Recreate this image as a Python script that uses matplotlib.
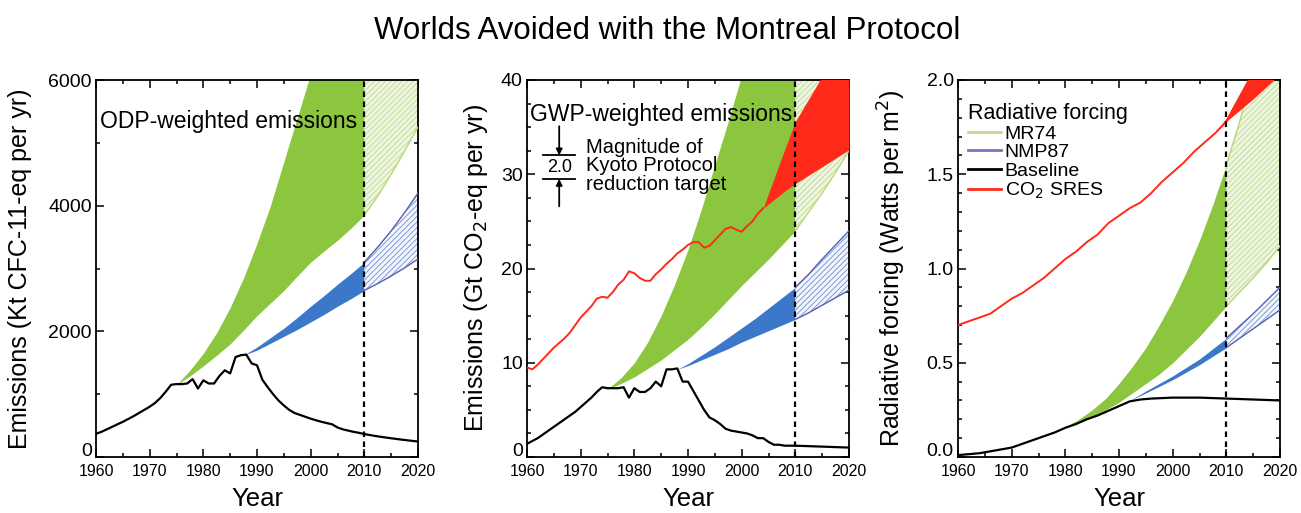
import numpy as np
import matplotlib
matplotlib.use("Agg")
import matplotlib.pyplot as plt
import matplotlib.transforms as mtransforms
from matplotlib.ticker import MultipleLocator, FormatStrFormatter
from matplotlib.lines import Line2D

plt.rcParams['font.family'] = ['Liberation Sans', 'DejaVu Sans']
plt.rcParams['hatch.linewidth'] = 0.6

# ---------------- data ----------------
years = list(range(1960, 2021))

# Panel 1: ODP-weighted emissions (Kt CFC-11-eq per yr)
odp_baseline = [370, 400, 440, 480, 520, 560, 605, 650, 700, 750,
                800, 860, 940, 1040, 1150, 1160, 1160, 1170, 1240, 1090,
                1220, 1170, 1170, 1290, 1380, 1330, 1590, 1620, 1630, 1490,
                1460, 1230, 1110, 1000, 900, 820, 750, 700, 670, 640,
                610, 585, 560, 540, 520, 470, 440, 420, 400, 385,
                365, 350, 335, 322, 310, 298, 287, 276, 266, 256, 246]
odp_mr_years = [1975, 1977.5, 1980, 1982.5, 1985, 1987.5, 1990, 1992.5, 1995, 1997.5,
                2000, 2002.5, 2005, 2007.5, 2010, 2012.5, 2015, 2017.5, 2020]
odp_mr_low = [1150, 1290, 1450, 1620, 1800, 2020, 2250, 2450, 2650, 2880,
              3100, 3280, 3450, 3640, 3850, 4150, 4500, 4870, 5250]
odp_mr_high = [1150, 1380, 1650, 1980, 2380, 2850, 3400, 4000, 4700, 5400,
               6100, 6900, 7700, 8500, 9300, 10100, 10900, 11700, 12500]
odp_nmp_years = [1987.5, 1990, 1992.5, 1995, 1997.5, 2000, 2002.5, 2005, 2007.5,
                 2010, 2012.5, 2015, 2017.5, 2020]
odp_nmp_low = [1620, 1700, 1810, 1920, 2030, 2150, 2270, 2400, 2520,
               2650, 2760, 2880, 3010, 3150]
odp_nmp_high = [1620, 1750, 1900, 2050, 2220, 2400, 2570, 2750, 2920,
                3100, 3340, 3600, 3890, 4200]

# Panel 2: GWP-weighted emissions (Gt CO2-eq per yr)
gwp_baseline = [1.4, 1.7, 2.0, 2.4, 2.8, 3.2, 3.6, 4.0, 4.4, 4.8,
                5.3, 5.8, 6.3, 6.9, 7.4, 7.3, 7.3, 7.3, 7.4, 6.3,
                7.3, 6.9, 6.9, 7.3, 8.0, 7.5, 9.3, 9.3, 9.4, 8.0,
                8.0, 7.0, 6.0, 5.0, 4.2, 3.9, 3.5, 3.0, 2.8, 2.7,
                2.6, 2.5, 2.3, 2.0, 2.0, 1.6, 1.3, 1.3, 1.2, 1.2,
                1.2, 1.18, 1.16, 1.14, 1.12, 1.1, 1.08, 1.06, 1.04, 1.02, 1.0]
co2_years = list(range(1960, 2005))
co2_emis = [9.5, 9.3, 9.8, 10.4, 11.0, 11.6, 12.1, 12.6, 13.2, 14.0,
            14.8, 15.4, 16.0, 16.8, 17.0, 16.9, 17.5, 18.3, 18.8, 19.7,
            19.5, 19.0, 18.7, 18.7, 19.4, 19.9, 20.5, 21.0, 21.6, 22.0,
            22.5, 22.8, 22.8, 22.2, 22.4, 23.0, 23.6, 24.2, 24.4, 24.1,
            23.9, 24.5, 25.0, 25.8, 26.4]
co2_sres_years = [2004, 2006, 2008, 2010, 2012.5, 2015, 2017.5, 2020]
co2_sres_low = [26.4, 27.3, 28.2, 29.0, 29.9, 30.8, 31.7, 32.6]
co2_sres_high = [26.4, 29.5, 32.6, 35.6, 38.0, 40.4, 42.7, 45.0]
gwp_mr_years = [1975, 1977.5, 1980, 1982.5, 1985, 1987.5, 1990, 1992.5, 1995, 1997.5,
                2000, 2002.5, 2005, 2007.5, 2010, 2012.5, 2015, 2017.5, 2020]
gwp_mr_low = [7.2, 7.8, 8.5, 9.4, 10.3, 11.4, 12.5, 13.8, 15.2, 16.7,
              18.2, 19.6, 21.0, 22.5, 24.0, 26.0, 28.0, 30.2, 32.5]
gwp_mr_high = [7.2, 8.4, 10.0, 12.2, 15.0, 18.3, 22.0, 26.3, 31.0, 35.6,
               40.5, 45.0, 50.0, 55.0, 60.0, 65.0, 70.0, 75.0, 80.0]
gwp_nmp_years = [1988, 1990, 1992.5, 1995, 1997.5, 2000, 2002.5, 2005, 2007.5,
                 2010, 2012.5, 2015, 2017.5, 2020]
gwp_nmp_low = [9.3, 9.7, 10.3, 10.9, 11.5, 12.2, 12.8, 13.4, 14.0,
               14.6, 15.3, 16.1, 16.9, 17.7]
gwp_nmp_high = [9.3, 9.9, 10.8, 11.7, 12.7, 13.7, 14.7, 15.8, 16.9,
                18.0, 19.4, 21.0, 22.5, 24.0]

# Panel 3: Radiative forcing (W m-2)
rf_years = [1960, 1962, 1964, 1966, 1968, 1970, 1972, 1974, 1976, 1978, 1980,
            1982, 1984, 1986, 1988, 1990, 1992, 1994, 1996, 2000, 2005, 2010,
            2015, 2020]
rf_baseline = [0.01, 0.015, 0.02, 0.03, 0.04, 0.05, 0.07, 0.09, 0.11, 0.13, 0.155,
               0.175, 0.20, 0.22, 0.245, 0.27, 0.295, 0.305, 0.31, 0.315, 0.315, 0.31,
               0.305, 0.30]
rf_co2_years = list(range(1960, 2011, 2))
rf_co2 = [0.70, 0.72, 0.74, 0.76, 0.80, 0.84, 0.87, 0.91, 0.95, 1.00,
          1.05, 1.09, 1.14, 1.18, 1.24, 1.28, 1.32, 1.35, 1.40, 1.46,
          1.51, 1.56, 1.62, 1.67, 1.72, 1.78]
rf_sres_years = [2008, 2010, 2015, 2020]
rf_sres_low = [1.72, 1.78, 1.90, 2.03]
rf_sres_high = [1.72, 1.80, 2.06, 2.30]
rf_mr_years = [1980, 1982.5, 1985, 1987.5, 1990, 1992.5, 1995, 1997.5, 2000, 2002.5,
               2005, 2007.5, 2010, 2012.5, 2015, 2017.5, 2020]
rf_mr_low = [0.16, 0.185, 0.21, 0.25, 0.29, 0.34, 0.39, 0.44, 0.50, 0.57,
             0.64, 0.72, 0.80, 0.875, 0.95, 1.03, 1.12]
rf_mr_high = [0.16, 0.20, 0.25, 0.31, 0.39, 0.48, 0.58, 0.70, 0.83, 0.98,
              1.15, 1.34, 1.55, 1.78, 2.05, 2.30, 2.60]
rf_nmp_years = [1992, 1995, 1997.5, 2000, 2002.5, 2005, 2007.5, 2010, 2012.5,
                2015, 2017.5, 2020]
rf_nmp_low = [0.30, 0.34, 0.375, 0.41, 0.45, 0.49, 0.535, 0.58, 0.63, 0.68, 0.73, 0.78]
rf_nmp_high = [0.30, 0.35, 0.39, 0.43, 0.475, 0.52, 0.575, 0.63, 0.695, 0.76, 0.83, 0.90]

# ---------------- styles ----------------
GREEN = '#8cc63e'
GREEN_PALE = '#eef6e2'
GREEN_HATCH = '#bcd98c'
GREEN_EDGE = '#b8d870'
BLUE = '#3b78c9'
BLUE_PALE = '#f1f5fc'
BLUE_HATCH = '#6f8ed3'
BLUE_EDGE = '#5a5fb0'
RED = '#ff2a1a'
SPLIT = 2010

fig = plt.figure(figsize=(13.01, 5.13), dpi=100)
lefts = [96, 527, 958]
axes = [fig.add_axes([l / 1301, 56 / 513, 322 / 1301, 377 / 513]) for l in lefts]


def band(ax, yrs, low, high, solid, pale, hatch_c, edge_c):
    yrs = np.asarray(yrs, float)
    low = np.asarray(low, float)
    high = np.asarray(high, float)
    pre = yrs <= SPLIT
    post = yrs >= SPLIT
    ax.fill_between(yrs[pre], low[pre], high[pre], color=solid, lw=0, zorder=2)
    ax.fill_between(yrs[post], low[post], high[post], facecolor=pale,
                    edgecolor=hatch_c, hatch='//////', lw=0, zorder=2)
    ax.plot(yrs[post], low[post], color=edge_c, lw=1.0, zorder=3)
    ax.plot(yrs[post], high[post], color=edge_c, lw=1.0, zorder=3)


def style(ax, ymax, ymaj, ymin):
    ax.set_xlim(1960, 2020)
    ax.set_ylim(0, ymax)
    ax.xaxis.set_major_locator(MultipleLocator(10))
    ax.xaxis.set_minor_locator(MultipleLocator(5))
    ax.yaxis.set_major_locator(MultipleLocator(ymaj))
    ax.yaxis.set_minor_locator(MultipleLocator(ymin))
    ax.tick_params(which='both', direction='in', top=True, right=True, width=1.1)
    ax.tick_params(which='major', length=6)
    ax.tick_params(which='minor', length=3)
    ax.tick_params(axis='x', labelsize=11.5, pad=5)
    ax.tick_params(axis='y', labelsize=14, pad=3)
    for s in ax.spines.values():
        s.set_linewidth(1.3)
    ax.axvline(SPLIT, color='black', lw=1.6, ls=(0, (2.5, 2)), zorder=5)
    ax.set_xlabel('Year', fontsize=18.5)
    ax.xaxis.set_label_coords(0.5, -0.08)


# ---- Panel 1 ----
ax = axes[0]
band(ax, odp_mr_years, odp_mr_low, odp_mr_high, GREEN, GREEN_PALE, GREEN_HATCH, GREEN_EDGE)
band(ax, odp_nmp_years, odp_nmp_low, odp_nmp_high, BLUE, BLUE_PALE, BLUE_HATCH, BLUE_EDGE)
ax.plot(years, odp_baseline, color='black', lw=1.6, zorder=4)
style(ax, 6000, 2000, 1000)
ax.set_ylabel('Emissions (Kt CFC-11-eq per yr)', fontsize=18)
ax.yaxis.set_label_coords(-0.2, 0.5)
ax.text(1960.8, 5340, 'ODP-weighted emissions', fontsize=16.5, va='center', ha='left', zorder=6)

# ---- Panel 2 ----
ax = axes[1]
band(ax, gwp_mr_years, gwp_mr_low, gwp_mr_high, GREEN, GREEN_PALE, GREEN_HATCH, GREEN_EDGE)
band(ax, gwp_nmp_years, gwp_nmp_low, gwp_nmp_high, BLUE, BLUE_PALE, BLUE_HATCH, BLUE_EDGE)
ax.fill_between(co2_sres_years, co2_sres_low, co2_sres_high, color=RED, lw=0, zorder=3)
ax.plot(co2_years, co2_emis, color=RED, lw=1.4, zorder=4)
ax.plot(years, gwp_baseline, color='black', lw=1.6, zorder=4)
style(ax, 40, 10, 2.5)
ax.set_ylabel('Emissions (Gt CO$_2$-eq per yr)', fontsize=18)
ax.yaxis.set_label_coords(-0.115, 0.5)
ax.text(1960.6, 36.3, 'GWP-weighted emissions', fontsize=16.5, va='center', ha='left', zorder=6)
# Kyoto magnitude marker
ax.annotate('', xy=(1966.0, 32.0), xytext=(1966.0, 35.1),
            arrowprops=dict(arrowstyle='-|>', color='black', lw=1.3, mutation_scale=9,
                            shrinkA=0, shrinkB=0))
ax.annotate('', xy=(1966.0, 29.5), xytext=(1966.0, 26.6),
            arrowprops=dict(arrowstyle='-|>', color='black', lw=1.3, mutation_scale=9,
                            shrinkA=0, shrinkB=0))
ax.plot([1963.0, 1968.9], [32.0, 32.0], color='black', lw=1.3)
ax.plot([1963.0, 1968.9], [29.5, 29.5], color='black', lw=1.3)
ax.text(1966.0, 30.75, '2.0', fontsize=13, ha='center', va='center')
ax.text(1971.0, 30.9, 'Magnitude of\nKyoto Protocol\nreduction target', fontsize=14.5,
        ha='left', va='center', linespacing=0.95)

# ---- Panel 3 ----
ax = axes[2]
band(ax, rf_mr_years, rf_mr_low, rf_mr_high, GREEN, GREEN_PALE, GREEN_HATCH, GREEN_EDGE)
band(ax, rf_nmp_years, rf_nmp_low, rf_nmp_high, BLUE, BLUE_PALE, BLUE_HATCH, BLUE_EDGE)
ax.fill_between(rf_sres_years, rf_sres_low, rf_sres_high, color=RED, lw=0, zorder=3)
ax.plot(rf_co2_years, rf_co2, color=RED, lw=1.4, zorder=4)
ax.plot(rf_years, rf_baseline, color='black', lw=1.6, zorder=4)
style(ax, 2.0, 0.5, 0.1)
ax.yaxis.set_major_formatter(FormatStrFormatter('%.1f'))
ax.set_ylabel('Radiative forcing (Watts per m$^2$)', fontsize=18)
ax.yaxis.set_label_coords(-0.155, 0.5)

handles = [Line2D([], [], color='#c3d98e', lw=2),
           Line2D([], [], color='#7575bf', lw=2),
           Line2D([], [], color='black', lw=2),
           Line2D([], [], color=RED, lw=2)]
labels = ['MR74', 'NMP87', 'Baseline', 'CO$_2$ SRES']
leg = ax.legend(handles, labels, title='Radiative forcing', loc='upper left',
                bbox_to_anchor=(0.0, 0.965), frameon=False, fontsize=14,
                title_fontsize=15.5, handlelength=1.7, handletextpad=0.2,
                labelspacing=0.05, borderaxespad=0.3, borderpad=0.2)
leg._legend_box.align = 'left'
leg.set_zorder(7)

fig.text(0.513, 0.94, 'Worlds Avoided with the Montreal Protocol', fontsize=22.5,
         ha='center', va='center')

# The bottom y tick label sits a little above the axis corner in the original.
fig.canvas.draw()
lift = mtransforms.ScaledTranslation(0, 7 / 100, fig.dpi_scale_trans)
for a in axes:
    for tick in a.yaxis.get_major_ticks():
        if abs(tick.get_loc()) < 1e-9:
            tick.label1.set_transform(tick.label1.get_transform() + lift)

fig.savefig('out.png', dpi=100)
